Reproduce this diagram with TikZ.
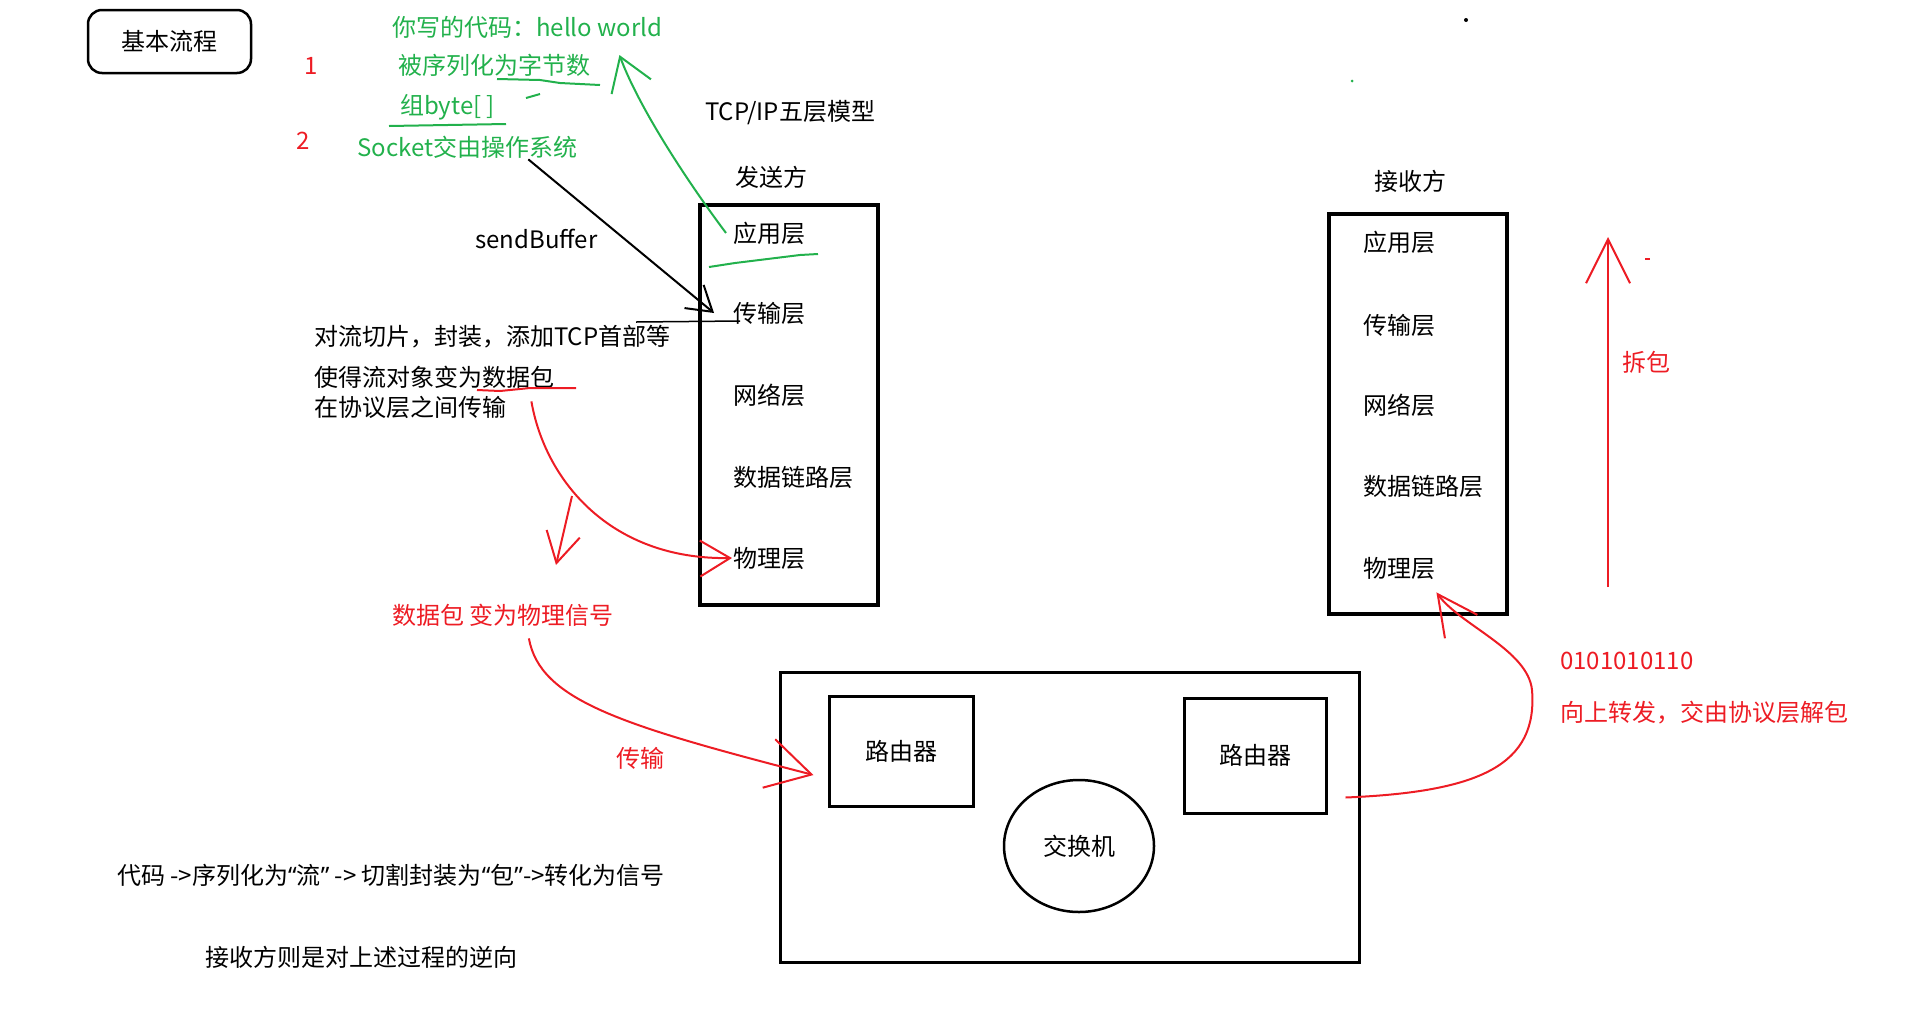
\documentclass[tikz,border=0pt]{standalone}
\usepackage{fontspec}
\setmainfont{Noto Sans CJK SC}
\newfontfamily\quotefont{Noto Sans}
\usetikzlibrary{arrows.meta,shapes.geometric}
\definecolor{penred}{RGB}{237,28,36}
\definecolor{pengreen}{RGB}{34,177,76}
\newcommand{\quoted}[1]{{\quotefont “}#1{\quotefont ”}}

\begin{document}
\begin{tikzpicture}[x=1pt,y=-1pt,
  every node/.style={font=\fontsize{24}{28}\selectfont},
  txt/.style={anchor=west,inner sep=1pt},
  redtxt/.style={txt,text=penred},
  greentxt/.style={txt,text=pengreen},
  stack/.style={draw,line width=4pt,minimum width=178pt,minimum height=400pt},
  router/.style={draw,line width=3pt,minimum width=144pt,minimum height=110pt},
  redpen/.style={draw=penred,line width=2pt},
  greenpen/.style={draw=pengreen,line width=2pt}]
\useasboundingbox (0,0) rectangle (1919,1010);

% title and notes
\node[draw,line width=2.5pt,rounded corners=14pt,minimum width=163pt,minimum height=63pt] (title) at (169.5,41.5) {基本流程};
\node[greentxt] (code) at (391,27) {你写的代码：hello world};
\node[text=penred] (one) at (311,66) {1};
\node[greentxt] (ser) at (397,65) {被序列化为字节数};
\node[greentxt] (bytes) at (399,107) {组byte[ ]};
\node[text=penred] (two) at (303,141) {2};
\node[greentxt] (sock) at (356,147) {Socket交由操作系统};
\node[txt] (tcpip) at (704,113) {TCP/IP五层模型};
\node[txt] (sendbuf) at (474,239) {sendBuffer};
\node[txt] (cut) at (313,337) {对流切片，封装，添加TCP首部等};
\node[txt] (pkt) at (313,377) {使得流对象变为数据包};
\node[txt] (pass) at (313,407) {在协议层之间传输};
\node[redtxt] (sig) at (391,615) {数据包 变为物理信号};
\node[text=penred] (trans) at (640,758) {传输};

% sender
\node[txt] (sendlbl) at (734,177) {发送方};
\node[stack] (sendbox) at (788.5,404.5) {};
\node[txt] (sapp) at (732,233) {应用层};
\node[txt] (strans) at (732,313) {传输层};
\node[txt] (snet) at (732,395) {网络层};
\node[txt] (slink) at (732,477) {数据链路层};
\node[txt] (sphy) at (732,558) {物理层};

% receiver
\node[txt] (recvlbl) at (1373,181) {接收方};
\node[stack] (recvbox) at (1417.5,414) {};
\node[txt] (rapp) at (1362,242) {应用层};
\node[txt] (rtrans) at (1362,325) {传输层};
\node[txt] (rnet) at (1362,405) {网络层};
\node[txt] (rlink) at (1362,486) {数据链路层};
\node[txt] (rphy) at (1362,568) {物理层};
\node[redtxt] (unpack) at (1621,362) {拆包};
\node[redtxt] (bits) at (1559,661) {0101010110};
\node[redtxt] (upfwd) at (1559,713) {向上转发，交由协议层解包};

% network
\node[draw,line width=3pt,minimum width=579pt,minimum height=290pt] (net) at (1069.5,817) {};
\node[router] (rta) at (901,751) {路由器};
\node[router,minimum width=142pt,minimum height=115pt] (rtb) at (1255,755.5) {路由器};
\node[draw,ellipse,line width=2.5pt,minimum width=150pt,minimum height=132pt] (sw) at (1079,846) {交换机};

% summary
\node[txt] (sum1) at (116,875) {代码 ->序列化为\quoted{流} -> 切割封装为\quoted{包}->转化为信号};
\node[txt] (sum2) at (204,957) {接收方则是对上述过程的逆向};

% green marks
\draw[greenpen,-{Straight Barb[length=32pt,width=42pt]}] ([xshift=-6pt]sapp.west) .. controls (690,185) and (640,110) .. ([shift={(28,-10)}]ser.east);
\draw[greenpen] (497,79) -- (540,80) -- (560,83) -- (600,85);
\draw[greenpen] (526,98) -- (540,94);
\draw[greenpen] (389,126) -- (506,124);
\draw[greenpen] (709,267) -- (735,263) -- (800,255) -- (818,254);

% black marks
\draw[line width=2pt,-{Straight Barb[length=24pt,width=30pt]}] ([xshift=-50pt]sock.south east) -- ([xshift=-18pt]strans.west);
\draw[line width=1.5pt] ([shift={(-96,9)}]strans.west) -- ([shift={(8,8)}]strans.west);

% red marks
\draw[redpen] (477,390) -- (500,391) -- (530,388) -- (576,388);
\draw[redpen,-{Straight Barb[length=30pt,width=36pt]}] ([shift={(-24,12)}]pkt.south east) .. controls (545,480) and (610,560) .. (sphy.west);
\draw[redpen,-{Straight Barb[length=30pt,width=34pt]}] (572,496) -- (556,565);
\draw[redpen,-{Straight Barb[length=44pt,width=50pt]}] ([shift={(26,11)}]sig.south) .. controls (540,700) and (620,725) .. ([shift={(-14,24)}]rta.west);
\draw[redpen,-{Straight Barb[length=40pt,width=40pt]}] ([shift={(18,42)}]rtb.east) .. controls (1480,792) and (1538,765) .. (1532,690) .. controls (1528,650) and (1460,625) .. ([yshift=-12pt]rphy.south east);
\draw[redpen,-{Straight Barb[length=44pt,width=44pt]}] (1608,587) -- (1608,237);

% stray dots
\fill (1466,20) circle (2);
\fill[pengreen] (1352,81) circle (1.5);
\fill[penred] (1645,258) rectangle (1650,260);
\end{tikzpicture}
\end{document}
